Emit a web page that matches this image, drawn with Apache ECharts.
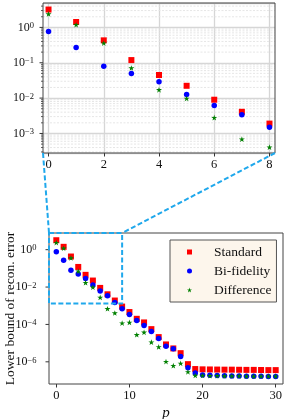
<!DOCTYPE html>
<html><head><meta charset="utf-8">
<script src="https://cdn.jsdelivr.net/npm/echarts@6/dist/echarts.min.js"></script>
<style>html,body{margin:0;padding:0;background:#fff}#c{width:287px;height:419px}</style>
</head><body><div id="c"></div>
<script>
// ---- data ----
const p = [0,1,2,3,4,5,6,7,8,9,10,11,12,13,14,15,16,17,18,19,20,21,22,23,24,25,26,27,28,29,30];
const standard = [3.2,1.42,0.43,0.119,0.045,0.0223,0.0090,0.0041,0.0019,
  9.0e-4,4.6e-4,2.0e-4,1.28e-4,5.6e-5,2.1e-5,8.5e-6,5.2e-6,2.9e-6,7.5e-7,4.1e-7,
  3.95e-7,3.9e-7,3.85e-7,3.8e-7,3.8e-7,3.75e-7,3.7e-7,3.7e-7,3.65e-7,3.6e-7,3.6e-7];
const bifidelity = [0.77,0.27,0.079,0.050,0.029,0.0127,0.0062,0.0034,0.0015,
  7.0e-4,3.4e-4,1.6e-4,8.7e-5,4.2e-5,1.78e-5,6.9e-6,5.0e-6,1.94e-6,4.8e-7,2.5e-7,
  2.0e-7,1.9e-7,1.85e-7,1.8e-7,1.75e-7,1.75e-7,1.7e-7,1.7e-7,1.7e-7,1.65e-7,1.65e-7];
const difference = [2.4,1.19,0.36,0.071,0.0172,0.0098,0.0028,0.00069,0.00041,
  1.18e-4,1.28e-4,2.8e-5,3.8e-5,1.13e-5,6.3e-6,1.03e-6,6.2e-7,8.3e-7,2.9e-7,1.85e-7,
  1.85e-7,1.8e-7,1.8e-7,1.75e-7,1.75e-7,1.75e-7,1.7e-7,1.7e-7,1.7e-7,1.7e-7,1.7e-7];
const seriesNames = ['Standard','Bi-fidelity','Difference'];
const topXTicks = [0,2,4,6,8];
const bottomXTicks = [0,10,20,30];
const topYTicks = [1e-3, 1e-2, 1e-1, 1];
const bottomYTicks = [1e-6, 1e-4, 1e-2, 1];
const zoomCount = 9; // points shown in the upper (zoomed) panel

// ---- axis ranges ----
const topX = [-0.2, 8.2], topY = [2.8e-4, 4.9];
const botX = [-1, 31], botY = [6.5e-8, 7.8];
const insetX = [-1, 9], insetY = [1.3e-3, 7.8];

const FONT = 'Liberation Serif';
const INK = '#111';
const CYAN = '#1fa8ec';
const TICK = '#333';
const STAR = 'path://M1,0L0.7755,0.691L0.0489,0.691L0.6367,1.118L0.4122,1.809L1,1.382L1.5878,1.809L1.3633,1.118L1.9511,0.691L1.2245,0.691Z';

function logLabel(v){
  const l = Math.log10(v), e = Math.round(l);
  if (Math.abs(l - e) > 1e-6) return '';
  return '{b|10}{s|' + (e < 0 ? '\u2212' + (-e) : e) + '}';
}
const rich = {
  b: {fontFamily: FONT, fontSize: 12, lineHeight: 12, verticalAlign: 'bottom', color: INK},
  s: {fontFamily: FONT, fontSize: 8.5, lineHeight: 8, padding: [0,0,5,0], verticalAlign: 'top', color: INK}
};
function pairs(xs, ys, n){ const out=[]; for (let i=0;i<n;i++) out.push([xs[i], ys[i]]); return out; }

const styles = [
  {symbol: 'rect', size: 6, color: '#ff0000', vals: standard},
  {symbol: 'circle', size: 5.5, color: '#0000ff', vals: bifidelity},
  {symbol: STAR, size: 6, color: '#008000', vals: difference}
];
const series = [];
[0,1].forEach(gi => {
  styles.forEach((s, k) => {
    series.push({
      type: 'scatter', name: seriesNames[k], xAxisIndex: gi, yAxisIndex: gi,
      data: pairs(p, s.vals, gi === 0 ? zoomCount : p.length),
      symbol: s.symbol, symbolSize: s.size, symbolKeepAspect: true,
      itemStyle: {color: s.color, opacity: 1}, z: 3, silent: true
    });
  });
});

const noLine = {show: false, onZero: false};
const chart = echarts.init(document.getElementById('c'), null, {renderer: 'canvas'});
chart.setOption({
  animation: false,
  grid: [
    {left: 43, top: 3, width: 232, height: 150, containLabel: false, outerBoundsMode: 'none'},
    {left: 49, top: 233, width: 234, height: 151, containLabel: false, outerBoundsMode: 'none'}
  ],
  xAxis: [
    {gridIndex: 0, type: 'value', min: topX[0], max: topX[1],
      axisLine: noLine,
      axisTick: {show: true, customValues: topXTicks, length: 3.5, lineStyle: {color: TICK}},
      axisLabel: {customValues: topXTicks, margin: 5, fontFamily: FONT, fontSize: 12.5, color: INK},
      splitLine: {show: true, lineStyle: {color: '#d6d6d6', width: 1.3}}},
    {gridIndex: 1, type: 'value', min: botX[0], max: botX[1],
      name: 'p', nameLocation: 'middle', nameGap: 22, nameMoveOverlap: false,
      nameTextStyle: {fontFamily: FONT, fontStyle: 'italic', fontSize: 15, color: INK},
      axisLine: noLine,
      axisTick: {show: true, customValues: bottomXTicks, length: 3.5, lineStyle: {color: TICK}},
      axisLabel: {customValues: bottomXTicks, margin: 5, fontFamily: FONT, fontSize: 12.5, color: INK},
      splitLine: {show: false}}
  ],
  yAxis: [
    {gridIndex: 0, type: 'log', logBase: 10, min: topY[0], max: topY[1],
      axisLine: noLine,
      axisTick: {show: false},
      axisLabel: {formatter: logLabel, rich: rich, margin: 9, showMinLabel: false, showMaxLabel: false},
      splitLine: {show: true, lineStyle: {color: '#d6d6d6', width: 1.3}}},
    {gridIndex: 1, type: 'log', logBase: 100, min: botY[0], max: botY[1],
      name: 'Lower bound of recon. error', nameLocation: 'middle', nameGap: 32, nameRotate: 90,
      nameMoveOverlap: false,
      nameTextStyle: {fontFamily: FONT, fontSize: 13.5, color: INK},
      axisLine: noLine,
      axisTick: {show: false},
      axisLabel: {formatter: logLabel, rich: rich, margin: 12.5, showMinLabel: false, showMaxLabel: false},
      splitLine: {show: false}}
  ],
  legend: {
    data: seriesNames, orient: 'vertical', left: 170, top: 240,
    itemWidth: 5, itemHeight: 5, itemGap: 5, selectedMode: false,
    padding: [5, 5, 5, 17], backgroundColor: '#fdf6ec', borderColor: '#555', borderWidth: 1,
    textStyle: {fontFamily: FONT, fontSize: 13.5, lineHeight: 14, color: INK, padding: [0,0,0,17]}
  },
  series: series
});

// ---- decorations derived from the axes ----
const px = (gi, x, y) => chart.convertToPixel({xAxisIndex: gi, yAxisIndex: gi}, [x, y]);
const g = [];
const tl0 = px(0, topX[0], topY[1]), br0 = px(0, topX[1], topY[0]);
const tl1 = px(1, botX[0], botY[1]), br1 = px(1, botX[1], botY[0]);
function hline(x1, x2, y, style, z){ g.push({type: 'line', z: z, silent: true, shape: {x1: x1, y1: y, x2: x2, y2: y}, style: style}); }
// minor grid lines and minor ticks on upper panel
for (let e = -4; e <= 0; e++) {
  for (let m = 2; m <= 9; m++) {
    const v = m * Math.pow(10, e);
    if (v <= topY[0] || v >= topY[1]) continue;
    const y = px(0, 0, v)[1];
    hline(tl0[0], br0[0], y, {stroke: '#e3e3e3', lineWidth: 0.9, lineDash: [2, 1.5]}, 0);
    hline(tl0[0] - 2, tl0[0], y, {stroke: TICK, lineWidth: 0.8}, 1);
  }
}
// major y ticks (outward)
topYTicks.forEach(v => hline(tl0[0] - 3.5, tl0[0], px(0, 0, v)[1], {stroke: TICK, lineWidth: 1}, 1));
bottomYTicks.forEach(v => hline(tl1[0] - 3.5, tl1[0], px(1, 0, v)[1], {stroke: TICK, lineWidth: 1}, 1));
// frames
[[tl0, br0], [tl1, br1]].forEach(([a, b]) => {
  g.push({type: 'rect', z: 1, silent: true, shape: {x: a[0], y: a[1], width: b[0] - a[0], height: b[1] - a[1]},
    style: {fill: 'none', stroke: '#444', lineWidth: 1}});
});
// inset indicator rectangle + connectors
const ia = px(1, insetX[0], insetY[1]), ib = px(1, insetX[1], insetY[0]);
const dash = {stroke: CYAN, lineWidth: 2, lineDash: [5, 2.5], fill: 'none'};
g.push({type: 'rect', z: 10, silent: true, shape: {x: ia[0], y: ia[1], width: ib[0] - ia[0], height: ib[1] - ia[1]}, style: dash});
g.push({type: 'line', z: 10, silent: true, shape: {x1: tl0[0], y1: br0[1], x2: ia[0], y2: ia[1]}, style: dash});
g.push({type: 'line', z: 10, silent: true, shape: {x1: br0[0], y1: br0[1], x2: ib[0], y2: ia[1]}, style: dash});
chart.setOption({graphic: g});
</script></body></html>
